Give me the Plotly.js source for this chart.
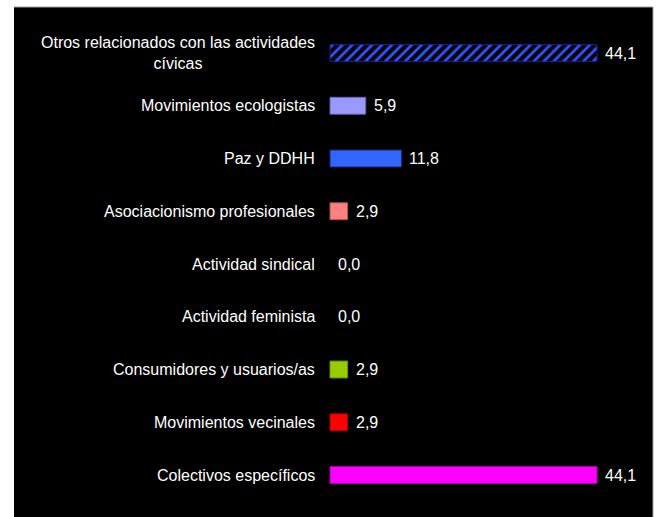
<!DOCTYPE html>
<html>
<head>
<meta charset="utf-8">
<script src="https://cdn.plot.ly/plotly-3.0.1.min.js"></script>
<style>html,body{margin:0;padding:0;background:#fff;}#chart{width:656px;height:517px;}</style>
</head>
<body>
<div id="chart"></div>
<script>
// Data (top to bottom as shown)
const categories = [
  "Otros relacionados con las actividades<br>cívicas",
  "Movimientos ecologistas",
  "Paz y DDHH",
  "Asociacionismo profesionales",
  "Actividad sindical",
  "Actividad feminista",
  "Consumidores y usuarios/as",
  "Movimientos vecinales",
  "Colectivos específicos"
];
const values = [44.1, 5.9, 11.8, 2.9, 0.0, 0.0, 2.9, 2.9, 44.1];
const valueLabels = ["44,1", "5,9", "11,8", "2,9", "0,0", "0,0", "2,9", "2,9", "44,1"];

// Styles
const barColors = ["#3355ff", "#9999ff", "#3366ff", "#ff8080", "#000000", "#000000", "#99cc00", "#ff0000", "#ff00ff"];
const lineColors = ["#14209a", "#6666aa", "#1a2a80", "#aa5555", "#000000", "#000000", "#669900", "#aa0000", "#aa00aa"];
const patterns = ["/", "", "", "", "", "", "", "", ""];
const lineWidths = values.map(v => (v > 0 ? 1 : 0));

const font = {family: "Liberation Sans, Arial, sans-serif", size: 16, color: "#ffffff"};

const trace = {
  type: "bar",
  orientation: "h",
  x: values,
  y: categories,
  width: 0.32,
  marker: {
    color: barColors,
    line: {color: lineColors, width: lineWidths},
    pattern: {shape: patterns, fgcolor: "#10188a", bgcolor: "#3358ff", size: 7, solidity: 0.4}
  },
  hoverinfo: "skip"
};

const annotations = [];
categories.forEach((c, i) => {
  annotations.push({
    x: 0, y: c, xref: "x", yref: "y",
    text: c, showarrow: false, xanchor: "right", yanchor: "middle",
    xshift: -13, align: "center", font: font
  });
  annotations.push({
    x: values[i], y: c, xref: "x", yref: "y",
    text: valueLabels[i], showarrow: false, xanchor: "left", yanchor: "middle",
    xshift: 6, font: font
  });
});

const layout = {
  width: 656, height: 517,
  margin: {l: 14, r: 3, t: 7, b: 0, pad: 0},
  paper_bgcolor: "#ffffff",
  plot_bgcolor: "#000000",
  showlegend: false,
  xaxis: {range: [-52.2, 53.35], visible: false, fixedrange: true},
  yaxis: {type: "category", categoryarray: categories, range: [8.796, -0.872],
          visible: false, fixedrange: true},
  annotations: annotations,
  shapes: [
    {type: "line", xref: "paper", yref: "paper", x0: 0, x1: 1, y0: 1, y1: 1,
     line: {color: "#a0a0a0", width: 1}},
    {type: "line", xref: "paper", yref: "paper", x0: 1, x1: 1, y0: 0, y1: 1,
     line: {color: "#a0a0a0", width: 1}}
  ],
  font: font
};

Plotly.newPlot("chart", [trace], layout, {displayModeBar: false, staticPlot: true});
</script>
</body>
</html>
